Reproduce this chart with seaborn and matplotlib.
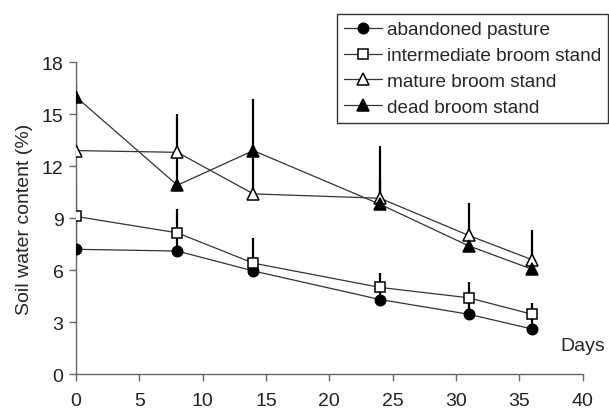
import numpy as np
import pandas as pd
import matplotlib
matplotlib.use("Agg")
import matplotlib.pyplot as plt
import seaborn as sns

# Data
days = [0, 8, 14, 24, 31, 36]
abandoned = [7.2, 7.1, 5.95, 4.3, 3.45, 2.6]
intermediate = [9.1, 8.15, 6.4, 5.0, 4.4, 3.45]
mature = [12.9, 12.8, 10.4, 10.15, 8.0, 6.6]
dead = [16.0, 10.9, 12.9, 9.8, 7.4, 6.05]

# upper error bars
abandoned_err = [1.7, 0.9, 0.5, 0.6, 0.8, 0.8]
intermediate_err = [1.8, 1.4, 1.45, 0.85, 0.9, 0.65]
mature_err = [3.0, 2.2, 2.5, 3.0, 1.85, 1.7]
dead_err = [0.85, 1.9, 2.95, 1.5, 1.0, 0.8]

labels = ["abandoned pasture", "intermediate broom stand", "mature broom stand", "dead broom stand"]
series = [abandoned, intermediate, mature, dead]
errors = [abandoned_err, intermediate_err, mature_err, dead_err]
markers = ["o", "s", "^", "^"]
faces = ["black", "white", "white", "black"]
sizes = [7.5, 7.5, 8.5, 8.5]

df = pd.concat([pd.DataFrame({"day": days, "swc": s, "err": e, "stand": lab})
                for s, e, lab in zip(series, errors, labels)])

sns.set_style("ticks")
plt.rcParams["font.family"] = ["Liberation Sans", "DejaVu Sans"]

fig = plt.figure(figsize=(6.09, 4.14), dpi=100)
ax = fig.add_axes([0.1248, 0.0942, 0.832, 0.753])

# error bars first (upper only)
for lab in labels:
    d = df[df.stand == lab]
    ax.errorbar(d.day, d.swc, yerr=[np.zeros(len(d)), d.err], fmt="none",
                ecolor="black", elinewidth=1.6, capsize=0, zorder=2)

for lab, m, fc, ms in zip(labels, markers, faces, sizes):
    d = df[df.stand == lab]
    sns.lineplot(data=d, x="day", y="swc", ax=ax, color="#333333", lw=0.9,
                 marker=m, markersize=ms, markerfacecolor=fc,
                 markeredgecolor="black", markeredgewidth=1.1, label=lab,
                 zorder=3, legend=False)

ax.set_xlim(0, 40)
ax.set_ylim(0, 18)
ax.set_xticks(range(0, 41, 5))
ax.set_yticks(range(0, 19, 3))
ax.tick_params(labelsize=14, colors="#222222", length=5, width=1)
ax.tick_params(axis="x", pad=8, color="#666666")
ax.tick_params(axis="y", pad=4, color="#666666")
for sp in ["left", "bottom"]:
    ax.spines[sp].set_color("#666666")
    ax.spines[sp].set_linewidth(1)
sns.despine(ax=ax)

ax.set_ylabel("Soil water content (%)", fontsize=14, labelpad=6)
ax.set_xlabel("Days", fontsize=14, ha="right", va="center")
ax.xaxis.set_label_coords(1.045, 0.093)

handles, labs = ax.get_legend_handles_labels()
leg = fig.legend(handles, labs, loc="upper right", bbox_to_anchor=(0.998, 0.963),
                 fontsize=13.7, frameon=True, fancybox=False, edgecolor="black",
                 handlelength=2.0, handletextpad=0.25, labelspacing=0.45,
                 borderpad=0.35, borderaxespad=0)
leg.get_frame().set_linewidth(1.0)

fig.savefig("out.png", dpi=100)
